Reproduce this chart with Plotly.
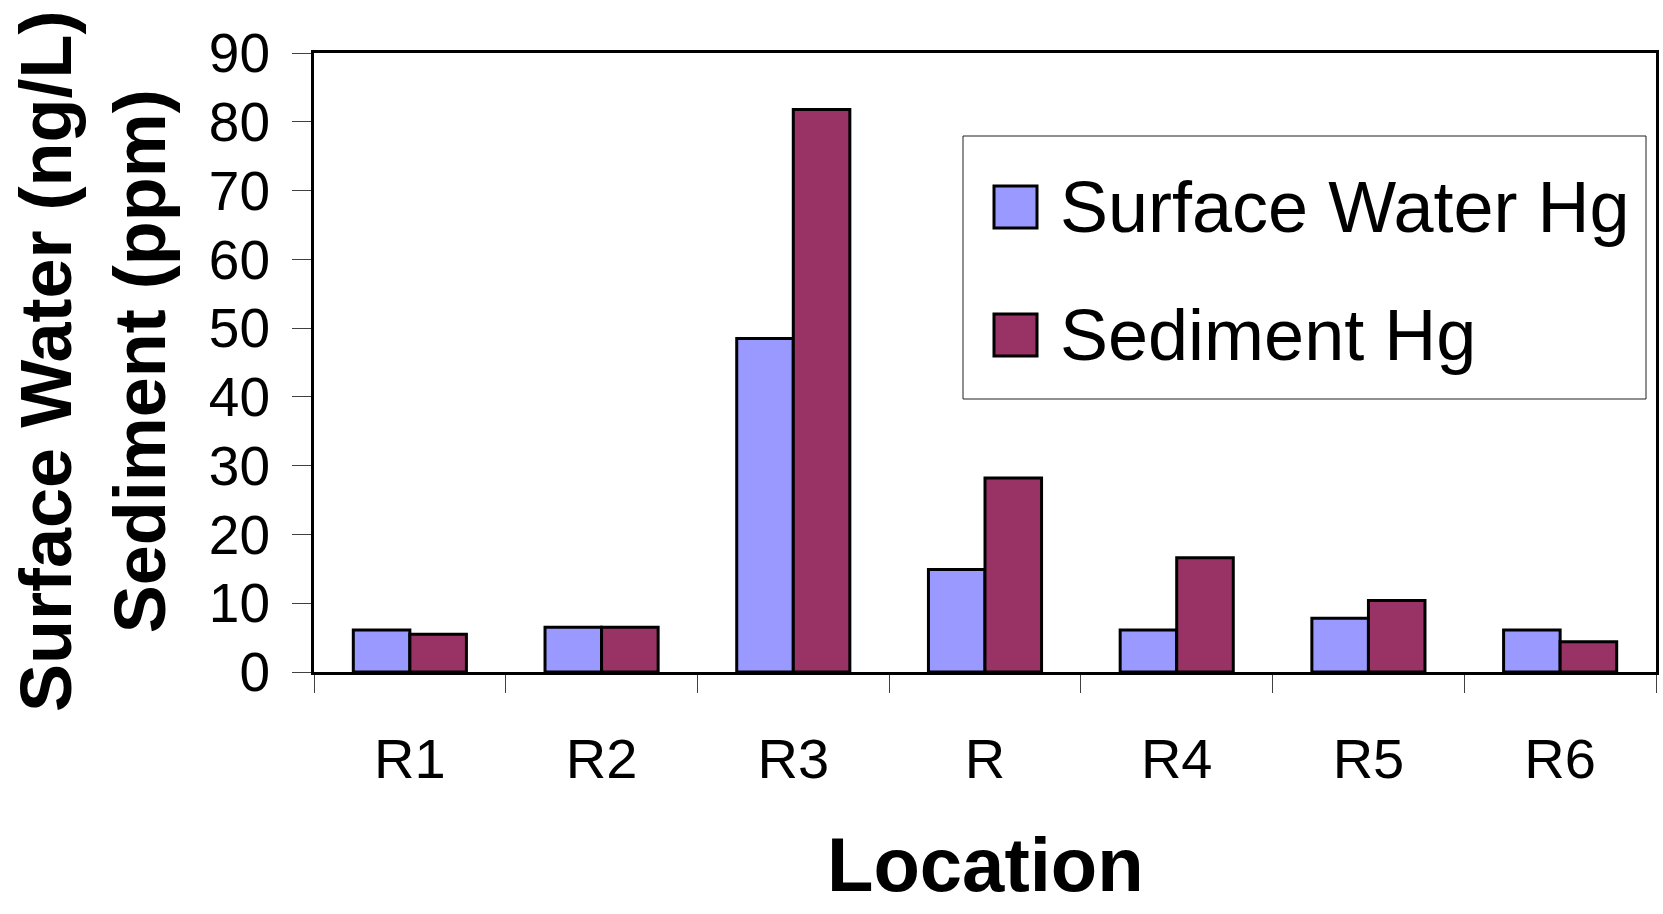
import plotly.graph_objects as go

# ---- data ----
locations = ["R1", "R2", "R3", "R", "R4", "R5", "R6"]
surface_water_hg = [6.1, 6.5, 48.5, 14.9, 6.1, 7.8, 6.1]
sediment_hg = [5.5, 6.5, 81.8, 28.2, 16.6, 10.4, 4.4]
y_ticks = [0, 10, 20, 30, 40, 50, 60, 70, 80, 90]
series_names = ["Surface Water Hg", "Sediment Hg"]
series_colors = ["#9999FF", "#993366"]

W, H = 1663, 914
L, R, T, B = 314, 1656, 53, 672  # plot area in pixels
FONT = "Liberation Sans, Arial, sans-serif"


def px(x):
    return (x - L) / (R - L)


def py(y):
    return (B - y) / (B - T)


fig = go.Figure()
for name, vals, col in zip(series_names, [surface_water_hg, sediment_hg], series_colors):
    fig.add_trace(go.Bar(
        x=locations, y=vals, name=name,
        marker=dict(color=col, line=dict(color="black", width=3)),
        showlegend=False,
    ))

fig.update_layout(
    width=W, height=H,
    margin=dict(l=L, r=W - R, t=T, b=H - B, autoexpand=False),
    paper_bgcolor="white", plot_bgcolor="white",
    barmode="group", bargap=0.41, bargroupgap=0,
    font=dict(family=FONT, color="black"),
)
fig.update_xaxes(
    type="category", showgrid=False, zeroline=False,
    showline=True, linecolor="black", linewidth=3, mirror=True,
    ticks="outside", tickson="boundaries", ticklen=18, tickwidth=1, tickcolor="#404040",
    tickfont=dict(size=56, family=FONT), ticklabelstandoff=36,
    automargin=False,
)
fig.update_yaxes(
    range=[0, 90], tickvals=y_ticks, showgrid=False, zeroline=False,
    showline=True, linecolor="black", linewidth=3, mirror=True,
    ticks="outside", ticklen=19, tickwidth=1, tickcolor="#404040",
    tickfont=dict(size=55, family=FONT), ticklabelstandoff=11,
    automargin=False,
)

# axis titles
fig.add_annotation(
    text="<b>Surface Water (ng/L)</b><br><b>Sediment (ppm)</b>",
    xref="paper", yref="paper", x=px(93), y=py(362),
    xanchor="center", yanchor="middle", textangle=-90, showarrow=False,
    font=dict(size=72, family=FONT, color="black"),
)
fig.add_annotation(
    text="<b>Location</b>",
    xref="paper", yref="paper", x=px(985), y=py(864),
    xanchor="center", yanchor="middle", showarrow=False, borderpad=0,
    font=dict(size=76, family=FONT, color="black"),
)

# legend (drawn manually to match the large swatches)
fig.add_shape(type="rect", xref="paper", yref="paper",
              x0=px(963), x1=px(1646), y0=py(399), y1=py(136),
              line=dict(color="#202020", width=1), fillcolor="white", layer="above")
swatch_rows = [207, 335]
for name, col, cy in zip(series_names, series_colors, swatch_rows):
    fig.add_shape(type="rect", xref="paper", yref="paper",
                  x0=px(994), x1=px(1037), y0=py(cy + 21), y1=py(cy - 21),
                  line=dict(color="black", width=3), fillcolor=col, layer="above")
    fig.add_annotation(text=name, xref="paper", yref="paper",
                       x=px(1058), y=py(cy), xanchor="left", yanchor="middle",
                       showarrow=False, font=dict(size=72, family=FONT, color="black"))

fig.write_html("out.html")
